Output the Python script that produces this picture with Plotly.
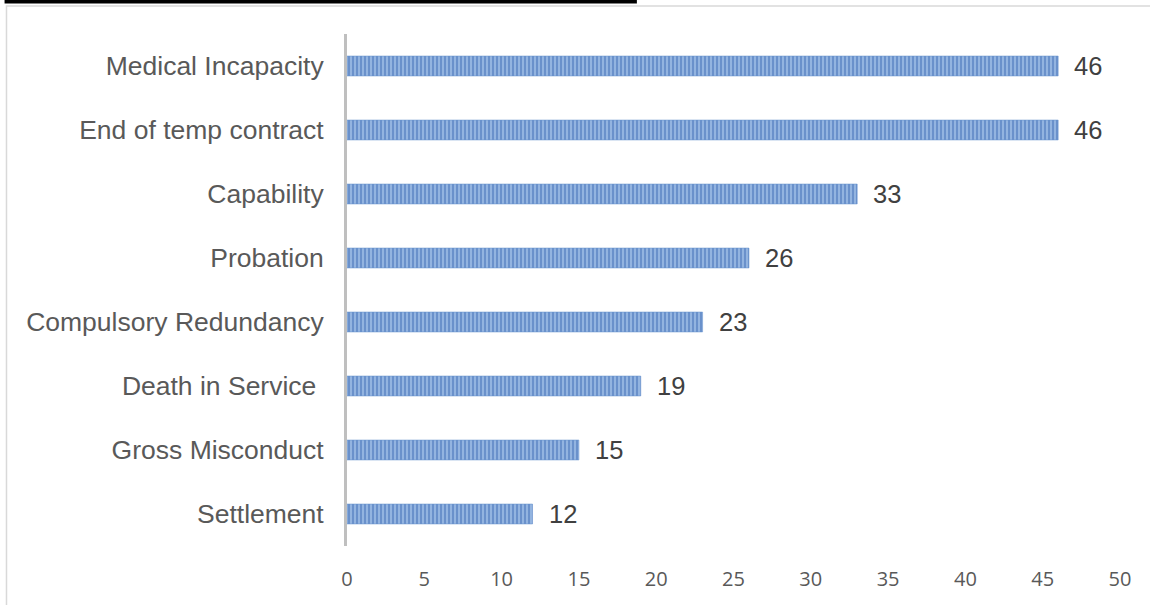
import plotly.graph_objects as go

# Leaver counts by reason (bottom-to-top order for the horizontal bar chart)
categories = [
    "Settlement",
    "Gross Misconduct",
    "Death in Service\u00a0",
    "Compulsory Redundancy",
    "Probation",
    "Capability",
    "End of temp contract",
    "Medical Incapacity",
]
counts = [12, 15, 19, 23, 26, 33, 46, 46]
x_ticks = [0, 5, 10, 15, 20, 25, 30, 35, 40, 45, 50]

label_font = dict(family="Liberation Sans, Arial, sans-serif", size=26.5, color="#595959")
value_font = dict(family="Liberation Sans, Arial, sans-serif", size=25.5, color="#404040")
tick_font = dict(family="Open Sans, Calibri, sans-serif", size=20, color="#595959")

fig = go.Figure()
fig.add_trace(
    go.Bar(
        x=counts,
        y=categories,
        orientation="h",
        width=0.31,
        marker=dict(
            color="#93b3e1",
            line=dict(color="#6a93cf", width=0.6),
            pattern=dict(shape="|", fgcolor="#3b6bb4", bgcolor="#98b7e3",
                         size=4, solidity=0.55, fillmode="overlay"),
        ),
        hoverinfo="skip",
    )
)

# Value labels placed just beyond each bar end
for c, v in zip(categories, counts):
    fig.add_annotation(
        x=v, y=c, xref="x", yref="y", text=str(v), showarrow=False,
        xanchor="left", xshift=14, font=value_font,
    )

# Outer chart border and the dark rule at the top edge
fig.add_shape(type="rect", xref="paper", yref="paper",
              x0=-0.4405, x1=1.06, y0=-0.2, y1=1.0547,
              line=dict(color="#d9d9d9", width=1.5), fillcolor="rgba(0,0,0,0)", layer="below")
fig.add_shape(type="line", xref="paper", yref="paper",
              x0=-0.443, x1=0.375, y0=1.0635, y1=1.0635,
              line=dict(color="#000000", width=4))

fig.update_layout(
    width=1150, height=605,
    margin=dict(l=347, r=30, t=34, b=59),
    paper_bgcolor="white", plot_bgcolor="white",
    showlegend=False,
    bargap=0.69,
    xaxis=dict(
        range=[0, 50], tickvals=x_ticks, showgrid=False, zeroline=False,
        showline=False, ticks="outside", ticklen=15, tickcolor="rgba(0,0,0,0)",
        tickfont=tick_font, fixedrange=True,
    ),
    yaxis=dict(
        categoryorder="array", categoryarray=categories,
        showgrid=False, zeroline=False, showline=True,
        linecolor="#bfbfbf", linewidth=3,
        ticks="outside", ticklen=15, tickcolor="rgba(0,0,0,0)",
        tickfont=label_font, fixedrange=True,
    ),
)

fig.write_html("out.html")
